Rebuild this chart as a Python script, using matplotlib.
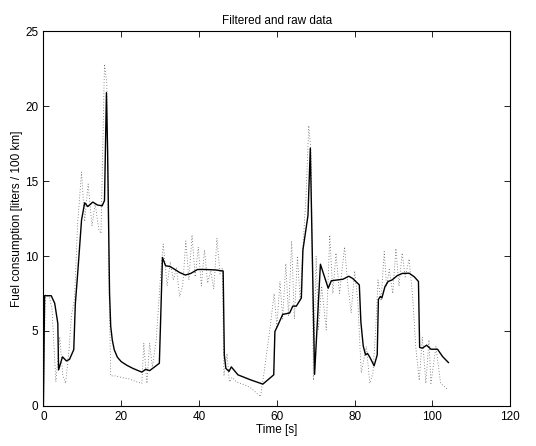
import matplotlib
matplotlib.use("Agg")
import matplotlib.pyplot as plt

plt.rcParams['font.family'] = ['Liberation Sans', 'DejaVu Sans']

# Filtered signal (time [s], fuel consumption)
t_filt = [0.0, 0.3, 2.0, 2.9, 3.7, 3.9, 4.9, 5.9, 6.7, 7.8, 8.2, 8.8, 9.8, 10.6,
          11.4, 12.7, 13.9, 15.1, 15.7, 16.2, 16.5, 17.0, 17.3, 17.7, 18.2, 19.0,
          20.0, 21.5, 23.0, 25.3, 26.3, 27.3, 29.8, 30.6, 31.4, 32.5, 33.5, 35.0,
          36.5, 37.9, 39.6, 41.7, 44.2, 46.2, 46.5, 46.9, 47.7, 48.3, 50.0, 53.3,
          56.4, 59.2, 59.5, 60.3, 61.5, 63.3, 64.1, 65.0, 66.3, 66.7, 68.0, 68.6,
          69.7, 71.2, 73.2, 74.0, 75.5, 77.0, 78.5, 79.5, 81.2, 81.6, 82.2, 82.8,
          83.3, 84.0, 85.0, 85.8, 86.1, 86.6, 87.0, 87.8, 88.6, 89.6, 91.0, 92.3,
          94.0, 95.3, 96.4, 96.7, 97.4, 98.5, 99.6, 101.3, 102.6, 104.1]
v_filt = [0.0, 7.35, 7.35, 6.85, 5.5, 2.4, 3.27, 3.0, 3.1, 3.75, 6.8, 8.8, 12.4, 13.55,
          13.3, 13.6, 13.4, 13.35, 13.7, 20.9, 17.0, 7.5, 5.3, 4.4, 3.75, 3.25,
          2.95, 2.7, 2.5, 2.25, 2.44, 2.35, 2.84, 9.9, 9.35, 9.3, 9.15, 8.9,
          8.73, 8.84, 9.1, 9.1, 9.07, 9.0, 3.4, 2.5, 2.3, 2.6, 2.07, 1.73,
          1.45, 2.07, 4.96, 5.4, 6.1, 6.2, 6.66, 6.65, 7.2, 10.4, 12.7, 17.2,
          2.1, 9.45, 7.85, 8.35, 8.4, 8.45, 8.65, 8.5, 8.07, 5.6, 4.0, 3.4,
          3.5, 3.2, 2.67, 3.4, 7.1, 7.3, 7.2, 7.96, 8.3, 8.4, 8.7, 8.84,
          8.85, 8.62, 8.3, 3.9, 3.85, 4.05, 3.78, 3.78, 3.29, 2.89]

# Raw signal
t_raw = [0.0, 0.5, 1.5, 2.2, 3.2, 4.2, 5.0, 5.7, 6.5, 7.2, 8.0, 8.8, 9.8, 10.6,
         11.5, 12.5, 13.3, 14.2, 14.8, 15.7, 16.3, 16.8, 17.3, 18.5, 20.0, 22.0,
         24.0, 25.3, 25.8, 26.6, 27.3, 28.0, 29.0, 30.2, 30.8, 31.8, 32.6, 33.4,
         34.2, 35.0, 35.8, 36.6, 37.4, 38.2, 39.0, 39.8, 40.6, 41.4, 42.2, 43.0,
         43.8, 44.6, 45.4, 46.0, 46.4, 47.2, 47.8, 48.5, 49.6, 51.7, 53.3, 55.8,
         56.7, 58.3, 59.3, 60.0, 60.8, 61.5, 62.3, 63.0, 63.8, 64.5, 65.3, 66.0,
         66.8, 67.5, 68.2, 68.8, 69.4, 70.1, 70.7, 71.5, 72.7, 73.6, 74.4, 75.2,
         76.1, 77.4, 78.2, 79.1, 80.0, 80.8, 81.7, 83.0, 83.9, 84.7, 85.4, 86.0,
         86.8, 87.6, 88.2, 88.9, 89.8, 90.6, 91.4, 92.2, 93.0, 94.0, 94.9, 95.7,
         96.6, 97.4, 98.3, 99.1, 99.6, 100.9, 102.1, 104.0]
v_raw = [0.0, 7.4, 7.3, 6.5, 1.6, 4.6, 2.0, 1.5, 3.5, 6.0, 7.2, 12.2, 15.6, 12.3,
         14.8, 12.0, 13.5, 11.8, 11.5, 22.8, 21.5, 9.0, 2.0, 2.0, 1.9, 1.8,
         1.6, 1.5, 4.2, 1.5, 4.2, 2.6, 4.4, 9.07, 10.8, 8.0, 9.6, 8.4,
         9.2, 7.3, 8.0, 11.0, 8.4, 11.4, 8.6, 10.6, 8.0, 10.4, 8.2, 9.0,
         7.8, 11.2, 8.8, 9.2, 2.0, 3.5, 1.6, 1.9, 1.6, 1.4, 1.2, 0.62,
         2.2, 5.3, 7.5, 5.3, 8.3, 5.8, 9.5, 6.0, 11.0, 5.8, 10.0, 7.0,
         11.0, 14.0, 18.7, 17.0, 1.7, 10.0, 5.1, 8.0, 5.07, 11.4, 7.5, 10.2,
         7.5, 10.6, 8.2, 6.2, 9.0, 7.0, 2.2, 3.96, 1.5, 2.2, 5.1, 8.4,
         7.0, 10.3, 8.0, 9.1, 7.5, 10.5, 8.0, 10.2, 8.6, 9.8, 7.3, 3.96,
         1.7, 4.6, 1.5, 4.4, 1.5, 3.96, 1.5, 1.07]

fig = plt.figure(figsize=(5.36, 4.46), dpi=100)
ax = fig.add_axes([0.081, 0.090, 0.871, 0.840])

ax.plot(t_raw, v_raw, color='0.4', linestyle=(0, (1, 2.4)), linewidth=0.6)
ax.plot(t_filt, v_filt, color='black', linewidth=1.0)

ax.set_xlim(0, 120)
ax.set_ylim(0, 25)
ax.set_xticks(range(0, 121, 20))
ax.set_yticks(range(0, 26, 5))
ax.tick_params(direction='in', top=True, right=True, labelsize=8.5, length=4, width=0.6)
for s in ax.spines.values():
    s.set_linewidth(0.8)

ax.set_xlabel("Time [s]", fontsize=8.5, labelpad=1)
ax.set_ylabel("Fuel consumption [liters / 100 km]", fontsize=8.5, labelpad=2)
ax.set_title("Filtered and raw data", fontsize=8.5, pad=5)

fig.savefig("out.png", dpi=100)
